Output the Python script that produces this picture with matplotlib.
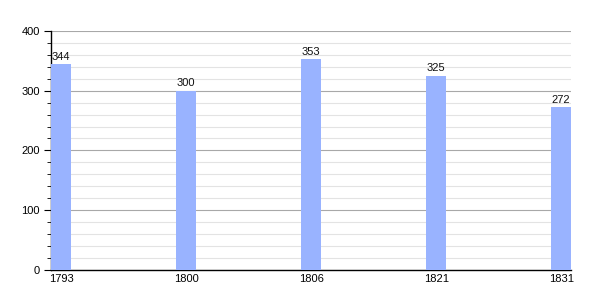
import matplotlib
matplotlib.use("Agg")
import matplotlib.pyplot as plt
from matplotlib.ticker import MultipleLocator

years = ["1793", "1800", "1806", "1821", "1831"]
values = [344, 300, 353, 325, 272]

plt.rcParams["font.family"] = ["Liberation Sans", "DejaVu Sans"]

fig = plt.figure(figsize=(6, 3), dpi=100)
ax = fig.add_axes([0.085, 0.1, 0.867, 0.797])

w = 0.16
pos = list(range(len(years)))
ax.bar(pos, values, width=w, align="edge", color="#99b3ff", zorder=3)
for p, v in zip(pos, values):
    ax.text(p + w / 2, v + 4, str(v), ha="center", va="bottom", fontsize=8, color="#111111", zorder=4)

ax.set_xlim(0, len(years) - 1 + w)
ax.set_ylim(0, 400)
ax.set_xticks([p + w / 2 for p in pos])
ax.set_xticklabels(years, fontsize=8)
ax.tick_params(axis="x", length=0, pad=3)
ax.yaxis.set_major_locator(MultipleLocator(100))
ax.yaxis.set_minor_locator(MultipleLocator(20))
ax.tick_params(axis="y", which="major", length=5, labelsize=8, pad=3)
ax.tick_params(axis="y", which="minor", length=3)
ax.grid(axis="y", which="minor", color="#e3e3e3", linewidth=0.8, zorder=1)
ax.grid(axis="y", which="major", color="#a8a8a8", linewidth=0.8, zorder=2)
for s in ["top", "right"]:
    ax.spines[s].set_visible(False)
ax.spines["left"].set_linewidth(1)
ax.spines["bottom"].set_linewidth(1)
ax.set_axisbelow(True)

fig.savefig("out.png", dpi=100)
